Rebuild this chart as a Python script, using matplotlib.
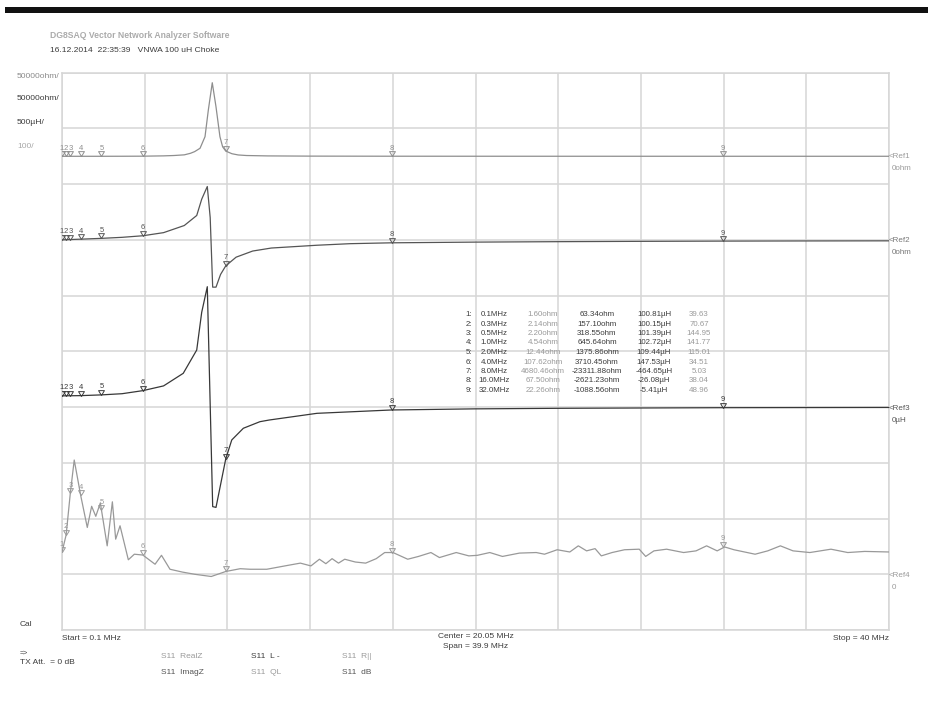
import matplotlib
matplotlib.use("Agg")
import matplotlib.pyplot as plt
from matplotlib.patches import Rectangle
from matplotlib.path import Path
import numpy as np

plt.rcParams['font.family'] = ['Liberation Sans Narrow', 'Liberation Sans', 'DejaVu Sans']

# ---------------- data ----------------
f_start, f_stop = 0.1, 40.0

# Trace 1: S11 Real Z (ohm), 50000 ohm/div, ref at 8.5 div
realz_freq = [0.1, 0.5, 1.0, 2.0, 3.0, 4.0, 5.0, 5.5, 6.0, 6.3, 6.5, 6.76, 7.0, 7.16, 7.35,
              7.53, 7.72, 7.85, 8.0, 8.3, 8.6, 9.0, 10.0, 12.0, 16.0, 24.0, 32.0, 40.0]
realz_ohm = [1.6, 2.2, 4.5, 12.4, 45, 108, 380, 700, 1300, 2700, 4200, 7200, 17600, 41500, 66000,
             44400, 17600, 8500, 4680, 2300, 1200, 700, 350, 160, 67.5, 35, 22.3, 16]

# Trace 2: S11 Imag Z (ohm), 50000 ohm/div, ref at 7 div
imagz_freq = [0.1, 0.3, 0.5, 1.0, 2.0, 3.0, 4.0, 5.0, 6.0, 6.6, 6.84, 7.11, 7.25, 7.37, 7.53,
              7.75, 8.0, 8.5, 9.3, 10.2, 12.4, 14.0, 16.0, 20.0, 24.0, 28.0, 32.0, 36.0, 40.0]
imagz_ohm = [63, 157, 319, 646, 1376, 2300, 3710, 6500, 12900, 21900, 36500, 47900, 20000, -42400, -42400,
             -31000, -23312, -15500, -10000, -7300, -4800, -3400, -2621, -2000, -1600, -1300, -1089, -950, -850]

# Trace 3: S11 L (uH), 500 uH/div, ref at 4 div
ind_freq = [0.1, 1.0, 2.0, 3.0, 4.0, 5.0, 5.95, 6.6, 6.84, 7.11, 7.37, 7.53, 8.0, 8.29, 8.85,
            9.65, 10.1, 12.4, 16.0, 20.0, 24.0, 32.0, 40.0]
ind_uH = [100.8, 102.7, 109.4, 120, 147.5, 190, 303, 512, 850, 1080, -893, -900, -465, -295, -190,
          -131, -116, -56, -26, -16, -11, -5.4, -3.5]

# Trace 4: S11 QL, 100/div, ref at 1 div
q_freq = [0.1, 0.3, 0.5, 0.69, 1.0, 1.32, 1.53, 1.73, 1.95, 2.28, 2.53, 2.69, 2.9, 3.3, 3.59,
          4.0, 4.59, 4.9, 5.31, 5.9, 6.5, 7.3, 8.0, 8.7, 9.17, 9.98, 11.0, 11.6, 12.11, 12.52,
          12.83, 13.13, 13.44, 13.74, 14.25, 14.75, 15.26, 15.67, 16.07, 16.78, 17.3, 17.9, 18.31,
          19.12, 19.73, 20.14, 20.74, 21.35, 22.17, 22.98, 23.38, 23.99, 24.6, 25.01, 25.41, 25.82,
          26.12, 26.64, 27.24, 27.95, 28.26, 28.66, 29.27, 30.09, 30.69, 31.2, 31.71, 32.07, 32.52,
          33.54, 34.15, 34.76, 35.37, 36.18, 37.2, 38.01, 38.83, 40.0]
q_val = [39.6, 70.7, 145, 205, 141.8, 84, 122, 104, 128, 51, 130, 63, 87, 26, 36,
         34.5, 18, 34, 9, 4, 0, -4, 5, 10, 9, 9, 16, 20, 15, 27,
         19, 28, 20, 27, 22, 20, 28, 39, 39, 27, 32, 39, 30,
         39, 33, 34, 39, 32, 38, 39, 36, 44, 40, 51, 42, 46,
         33, 39, 44, 45, 32, 42, 45, 39, 42, 51, 42, 49, 44,
         36, 42, 51, 42, 39, 45, 39, 41, 40]

# Markers
marker_freq = [0.1, 0.3, 0.5, 1.0, 2.0, 4.0, 8.0, 16.0, 32.0]
marker_R = [1.60, 2.14, 2.20, 4.54, 12.44, 107.62, 4680.46, 67.50, 22.26]
marker_X = [63.34, 157.10, 318.55, 645.64, 1375.86, 3710.45, -23311.88, -2621.23, -1088.56]
marker_L = [100.81, 100.15, 101.39, 102.72, 109.44, 147.53, -464.65, -26.08, -5.41]
marker_Q = [39.63, 70.67, 144.95, 141.77, 115.01, 34.51, 5.03, 38.04, 48.96]

# ---------------- figure ----------------
W, H = 929, 704
fig = plt.figure(figsize=(W / 100, H / 100), dpi=100)
fig.patch.set_facecolor('white')

def fx(x):
    return x / W

def fy(y):
    return 1 - y / H

LIGHT = '#9a9a9a'
DARK = '#3c3c3c'
GRID = '#d6d6d6'

# top black bar
fig.add_artist(Rectangle((fx(5), fy(13)), 1 - fx(5), 6 / H, transform=fig.transFigure,
                         facecolor='#111111', edgecolor='none'))

ax = fig.add_axes([fx(62), fy(630), (889 - 62) / W, (630 - 72.7) / H])
ax.set_xlim(f_start, f_stop)
ax.set_ylim(0, 10)
ax.set_xticks(np.linspace(f_start, f_stop, 11))
ax.set_yticks(range(11))
ax.grid(True, color=GRID, lw=1.1)
ax.tick_params(length=0, labelbottom=False, labelleft=False)
for s in ax.spines.values():
    s.set_color(GRID)
    s.set_linewidth(1.1)

tri = Path([(-0.6, 1.0), (0.6, 1.0), (0.0, 0.0), (-0.6, 1.0)],
           [Path.MOVETO, Path.LINETO, Path.LINETO, Path.CLOSEPOLY])

def trace(ref_div, per_div, xs, ys, mvals, color):
    t = ax.twinx()
    t.set_ylim(-ref_div * per_div, (10 - ref_div) * per_div)
    t.axis('off')
    t.plot(xs, ys, color=color, lw=0.9)
    t.plot(marker_freq, mvals, linestyle='none', marker=tri, markersize=7,
           markerfacecolor='none', markeredgecolor=color, markeredgewidth=0.7)
    for i, (mf, mv) in enumerate(zip(marker_freq, mvals)):
        t.annotate(str(i + 1), xy=(mf, mv), xytext=(0, 3.3), textcoords='offset points',
                   ha='center', va='bottom', fontsize=5.5, color=color)
    return t

trace(8.5, 50000, realz_freq, realz_ohm, marker_R, '#8e8e8e')
trace(7.0, 50000, imagz_freq, imagz_ohm, marker_X, '#555555')
trace(4.0, 500, ind_freq, ind_uH, marker_L, '#383838')
trace(1.0, 100, q_freq, q_val, marker_Q, '#999999')

def txt(x, y, s, color=DARK, size=6.3, ha='left', weight='normal'):
    fig.text(fx(x), fy(y), s, color=color, fontsize=size, ha=ha, va='center', weight=weight)

# header
txt(50, 35, 'DG8SAQ Vector Network Analyzer Software', color='#ababab', size=6.2, weight='bold')
txt(50, 51, '16.12.2014  22:35:39   VNWA 100 uH Choke', size=6.1)

# left scale labels
txt(17, 77, '50000ohm/', color='#8a8a8a', size=6.1)
txt(17, 99, '50000ohm/', color=DARK, size=6.1)
txt(17, 122, '500µH/', color=DARK, size=6.1)
txt(17, 146, '100/', color='#a8a8a8', size=6.1)

# right reference labels
refs = [(155.7, '<Ref1', '0ohm', LIGHT), (239.4, '<Ref2', '0ohm', '#777777'),
        (407.1, '<Ref3', '0µH', '#555555'), (574.3, '<Ref4', '0', LIGHT)]
for y, a, b, c in refs:
    txt(889, y + 1, a, color=c, size=5.8)
    txt(892, y + 13, b, color=c, size=5.8)

# marker table
rows_y = [314.3, 324.0, 333.3, 342.7, 352.3, 362.0, 371.3, 380.7, 390.3]
for i in range(len(marker_freq)):
    y = rows_y[i]
    txt(469, y, f'{i + 1}:', size=5.7, ha='center')
    txt(494, y, f'{marker_freq[i]:.1f}MHz', size=5.7, ha='center')
    txt(543, y, f'{marker_R[i]:.2f}ohm', color=LIGHT, size=5.7, ha='center')
    txt(597, y, f'{marker_X[i]:.2f}ohm', size=5.7, ha='center')
    txt(654, y, f'{marker_L[i]:.2f}µH', size=5.7, ha='center')
    txt(699, y, f'{marker_Q[i]:.2f}', color=LIGHT, size=5.7, ha='center')

# bottom annotations
txt(62, 638, 'Start = 0.1 MHz', size=6)
txt(476, 637, 'Center = 20.05 MHz', size=6, ha='center')
txt(476, 647, 'Span = 39.9 MHz', size=6, ha='center')
txt(889, 638, 'Stop = 40 MHz', size=6, ha='right')
txt(20, 624, 'Cal', size=6)
txt(20, 653, '=>', size=5)
txt(20, 662, 'TX Att.  = 0 dB', size=6)

txt(161, 657, 'S11  RealZ', color=LIGHT, size=6)
txt(161, 673, 'S11  ImagZ', color='#555555', size=6)
txt(251, 657, 'S11  L -', color=DARK, size=6)
txt(251, 673, 'S11  QL', color=LIGHT, size=6)
txt(342, 657, 'S11  R||', color=LIGHT, size=6)
txt(342, 673, 'S11  dB', color='#555555', size=6)

fig.savefig('out.png', dpi=100, facecolor='white')
